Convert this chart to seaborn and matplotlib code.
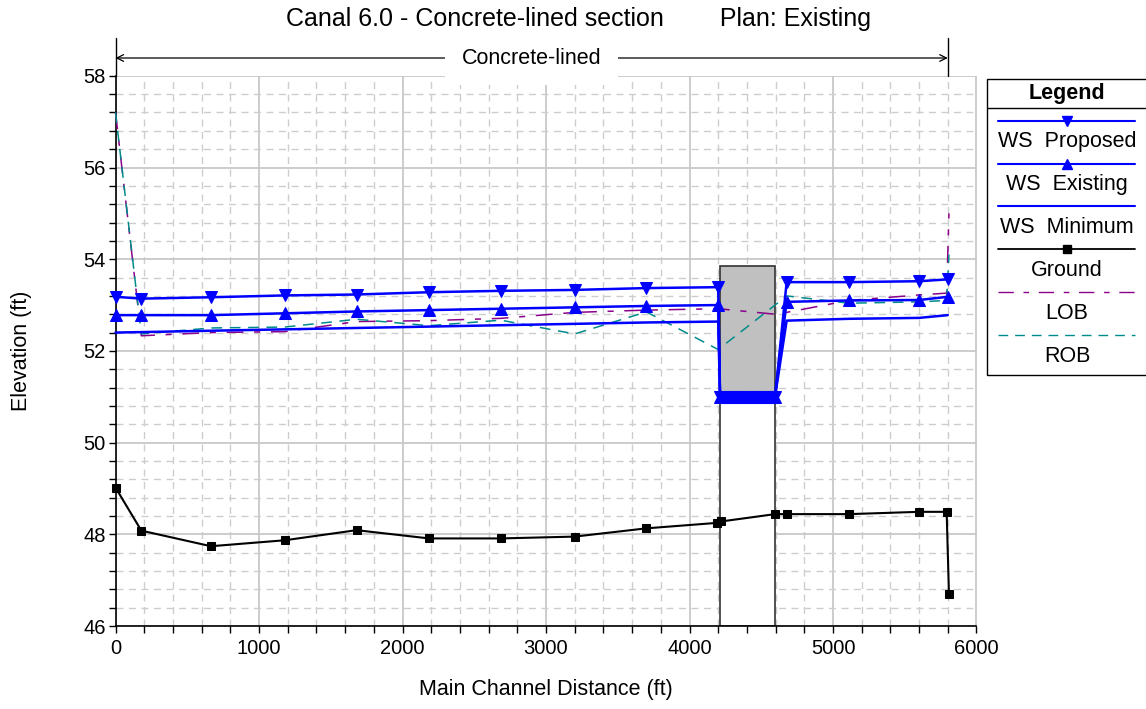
import matplotlib
matplotlib.use("Agg")
import matplotlib.pyplot as plt
from matplotlib.patches import Rectangle
from matplotlib.ticker import MultipleLocator
import seaborn as sns

# ---- profile data (stations in ft, elevations in ft) ----
ws_stations = [0, 180, 665, 1180, 1680, 2185, 2686, 3200, 3700, 4200,
               4213, 4242, 4272, 4301, 4331, 4360, 4390, 4419, 4449, 4478,
               4508, 4537, 4567, 4596,
               4677, 5111, 5600, 5800]
ws_proposed = [53.18, 53.14, 53.17, 53.21, 53.23, 53.28, 53.31, 53.33, 53.37, 53.39,
               51.0, 51.0, 51.0, 51.0, 51.0, 51.0, 51.0, 51.0, 51.0, 51.0,
               51.0, 51.0, 51.0, 51.0,
               53.50, 53.50, 53.52, 53.56]
ws_existing = [52.78, 52.78, 52.78, 52.82, 52.86, 52.89, 52.92, 52.95, 52.98, 53.00,
               51.0, 51.0, 51.0, 51.0, 51.0, 51.0, 51.0, 51.0, 51.0, 51.0,
               51.0, 51.0, 51.0, 51.0,
               53.07, 53.10, 53.11, 53.18]
min_stations = [0, 180, 665, 1180, 1680, 2185, 2686, 3200, 3700, 4200,
                4213, 4596, 4677, 5111, 5600, 5800]
ws_minimum = [52.40, 52.41, 52.44, 52.47, 52.50, 52.53, 52.56, 52.59, 52.62, 52.64,
              51.0, 51.0, 52.66, 52.70, 52.72, 52.78]
ground_stations = [0, 180, 665, 1180, 1680, 2185, 2686, 3200, 3700, 4195, 4220,
                   4596, 4677, 5111, 5600, 5792, 5808]
ground = [49.02, 48.08, 47.74, 47.87, 48.09, 47.91, 47.91, 47.95, 48.13, 48.25, 48.28,
          48.44, 48.44, 48.44, 48.49, 48.49, 46.70]
bank_stations = [0, 180, 665, 1180, 1680, 2185, 2686, 3200, 3700, 4200,
                 4596, 4677, 5111, 5600, 5792, 5808]
lob = [57.20, 52.33, 52.40, 52.42, 52.64, 52.66, 52.71, 52.84, 52.89, 52.92,
       52.80, 52.84, 53.10, 53.22, 53.26, 55.00]
rob = [57.20, 52.37, 52.50, 52.52, 52.69, 52.55, 52.67, 52.37, 52.85, 52.03,
       53.00, 53.20, 53.04, 53.07, 53.10, 54.10]

# culvert geometry
culvert_us = 4213
culvert_ds = 4596
deck_top = 53.85
opening_top = 51.0

# reach annotation
reach_start, reach_end = 0, 5800
reach_label = "Concrete-lined"

title = "Canal 6.0 - Concrete-lined section        Plan: Existing"
x_label = "Main Channel Distance (ft)"
y_label = "Elevation (ft)"
legend_labels = ["WS  Proposed", "WS  Existing", "WS  Minimum", "Ground", "LOB", "ROB"]

# ---- styling ----
sns.set_theme(style="ticks")
plt.rcParams["font.family"] = ["Liberation Sans", "DejaVu Sans"]
plt.rcParams["text.color"] = "black"
plt.rcParams["axes.labelcolor"] = "black"

BLUE = "#0000ff"
LOB_C = "#8b008b"
ROB_C = "#008b8b"
LOB_DASH = (0, (11, 7, 4, 7))
ROB_DASH = (0, (7, 5))

W, H = 1146, 709
fig = plt.figure(figsize=(W / 100, H / 100), dpi=100)
ax = fig.add_axes([115.5 / W, (H - 626) / H, (976.5 - 115.5) / W, (626 - 75.8) / H])

ax.set_xlim(0, 6000)
ax.set_ylim(46, 58)
ax.xaxis.set_major_locator(MultipleLocator(1000))
ax.xaxis.set_minor_locator(MultipleLocator(200))
ax.yaxis.set_major_locator(MultipleLocator(2))
ax.yaxis.set_minor_locator(MultipleLocator(0.4))
ax.grid(which="major", color="#c8c8c8", lw=1.3, ls="-", zorder=0)
ax.grid(which="minor", color="#cdcdcd", lw=1.0, ls=(0, (5, 4)), zorder=0)
ax.set_axisbelow(True)
for s in ("top", "right"):
    ax.spines[s].set_visible(False)
for s in ("left", "bottom"):
    ax.spines[s].set_color("black")
    ax.spines[s].set_linewidth(1.2)
ax.tick_params(which="both", direction="out", length=5, width=1, color="black",
               labelsize=14.5, labelcolor="black", pad=2)
ax.tick_params(axis="x", which="major", pad=4.5)
ax.set_xlabel(x_label, fontsize=15.5)
ax.set_ylabel(y_label, fontsize=15.5)
ax.xaxis.set_label_coords(0.5, -(690 - 626) / 550.2)
ax.xaxis.label.set_va("center")
ax.yaxis.set_label_coords(-(115.5 - 22) / 861, 0.5)
ax.yaxis.label.set_va("center")

# culvert: opening below, deck above
ax.add_patch(Rectangle((culvert_us, 46), culvert_ds - culvert_us, opening_top - 46,
                       facecolor="white", edgecolor="#333333", lw=1.2, zorder=1.5))
ax.add_patch(Rectangle((culvert_us, opening_top), culvert_ds - culvert_us, deck_top - opening_top,
                       facecolor="#c0c0c0", edgecolor="#333333", lw=1.2, zorder=1.6))

common = dict(ax=ax, sort=False, estimator=None, legend=False, clip_on=False)
sns.lineplot(x=bank_stations, y=lob, color=LOB_C, lw=1.1, linestyle=LOB_DASH, zorder=3, **common)
sns.lineplot(x=bank_stations, y=rob, color=ROB_C, lw=1.1, linestyle=ROB_DASH, zorder=3, **common)
sns.lineplot(x=ground_stations, y=ground, color="black", lw=1.5, marker="s", markersize=6,
             markeredgecolor="black", markerfacecolor="black", zorder=4, **common)
sns.lineplot(x=min_stations, y=ws_minimum, color=BLUE, lw=1.8, zorder=4, **common)
sns.lineplot(x=ws_stations, y=ws_existing, color=BLUE, lw=1.8, marker="^", markersize=8,
             markeredgecolor=BLUE, markerfacecolor=BLUE, zorder=5, **common)
sns.lineplot(x=ws_stations, y=ws_proposed, color=BLUE, lw=1.8, marker="v", markersize=8,
             markeredgecolor=BLUE, markerfacecolor=BLUE, zorder=5, **common)

# reach bracket above the plot
y_arrow = 58 + (75.8 - 58) / 45.85
y_top = 58 + (75.8 - 38) / 45.85
for xs in (reach_start, reach_end):
    ax.plot([xs, xs], [58, y_top], color="black", lw=1.0, clip_on=False, zorder=6)
ax.annotate("", xy=(reach_start, y_arrow), xytext=(reach_end, y_arrow),
            arrowprops=dict(arrowstyle="<->", lw=0.9, color="black",
                            shrinkA=0, shrinkB=0, mutation_scale=12),
            annotation_clip=False)
ax.text((reach_start + reach_end) / 2, y_arrow, reach_label, ha="center", va="center",
        fontsize=15.5, bbox=dict(facecolor="white", edgecolor="none", pad=12),
        clip_on=False, zorder=7)

fig.text(579 / W, 1 - 19 / H, title, ha="center", va="center", fontsize=18)

# ---- legend panel ----
lx0, ly0, lx1, ly1 = 986.5, 78.3, 1150, 375.5
lax = fig.add_axes([lx0 / W, (H - ly1) / H, (lx1 - lx0) / W, (ly1 - ly0) / H])
lax.set_xlim(lx0, lx1)
lax.set_ylim(ly1, ly0)
lax.axis("off")
lax.add_patch(Rectangle((lx0 + 0.5, ly0 + 0.5), lx1 - lx0, ly1 - ly0 - 1,
                        facecolor="white", edgecolor="black", lw=1.0, clip_on=False))
lax.plot([lx0, lx1], [107.7, 107.7], color="black", lw=1.0)
lax.text(1067, 93, "Legend", ha="center", va="center", fontsize=15.5, fontweight="bold")
styles = [
    dict(color=BLUE, lw=1.5, marker="v", ms=7),
    dict(color=BLUE, lw=1.5, marker="^", ms=7),
    dict(color=BLUE, lw=1.5, marker=None, ms=0),
    dict(color="black", lw=1.3, marker="s", ms=6),
    dict(color=LOB_C, lw=1.0, marker=None, ms=0, ls=LOB_DASH),
    dict(color=ROB_C, lw=1.0, marker=None, ms=0, ls=ROB_DASH),
]
for i, (lab, st) in enumerate(zip(legend_labels, styles)):
    yl = 120.7 + i * 42.86
    lax.plot([998, 1135], [yl, yl], color=st["color"], lw=st["lw"], ls=st.get("ls", "-"))
    if st["marker"]:
        lax.plot([1067], [yl], marker=st["marker"], ms=st["ms"], color=st["color"],
                 mec=st["color"], mfc=st["color"])
    lax.text(1067, yl + 21, lab, ha="center", va="center", fontsize=15.5)

fig.savefig("out.png", dpi=100)
